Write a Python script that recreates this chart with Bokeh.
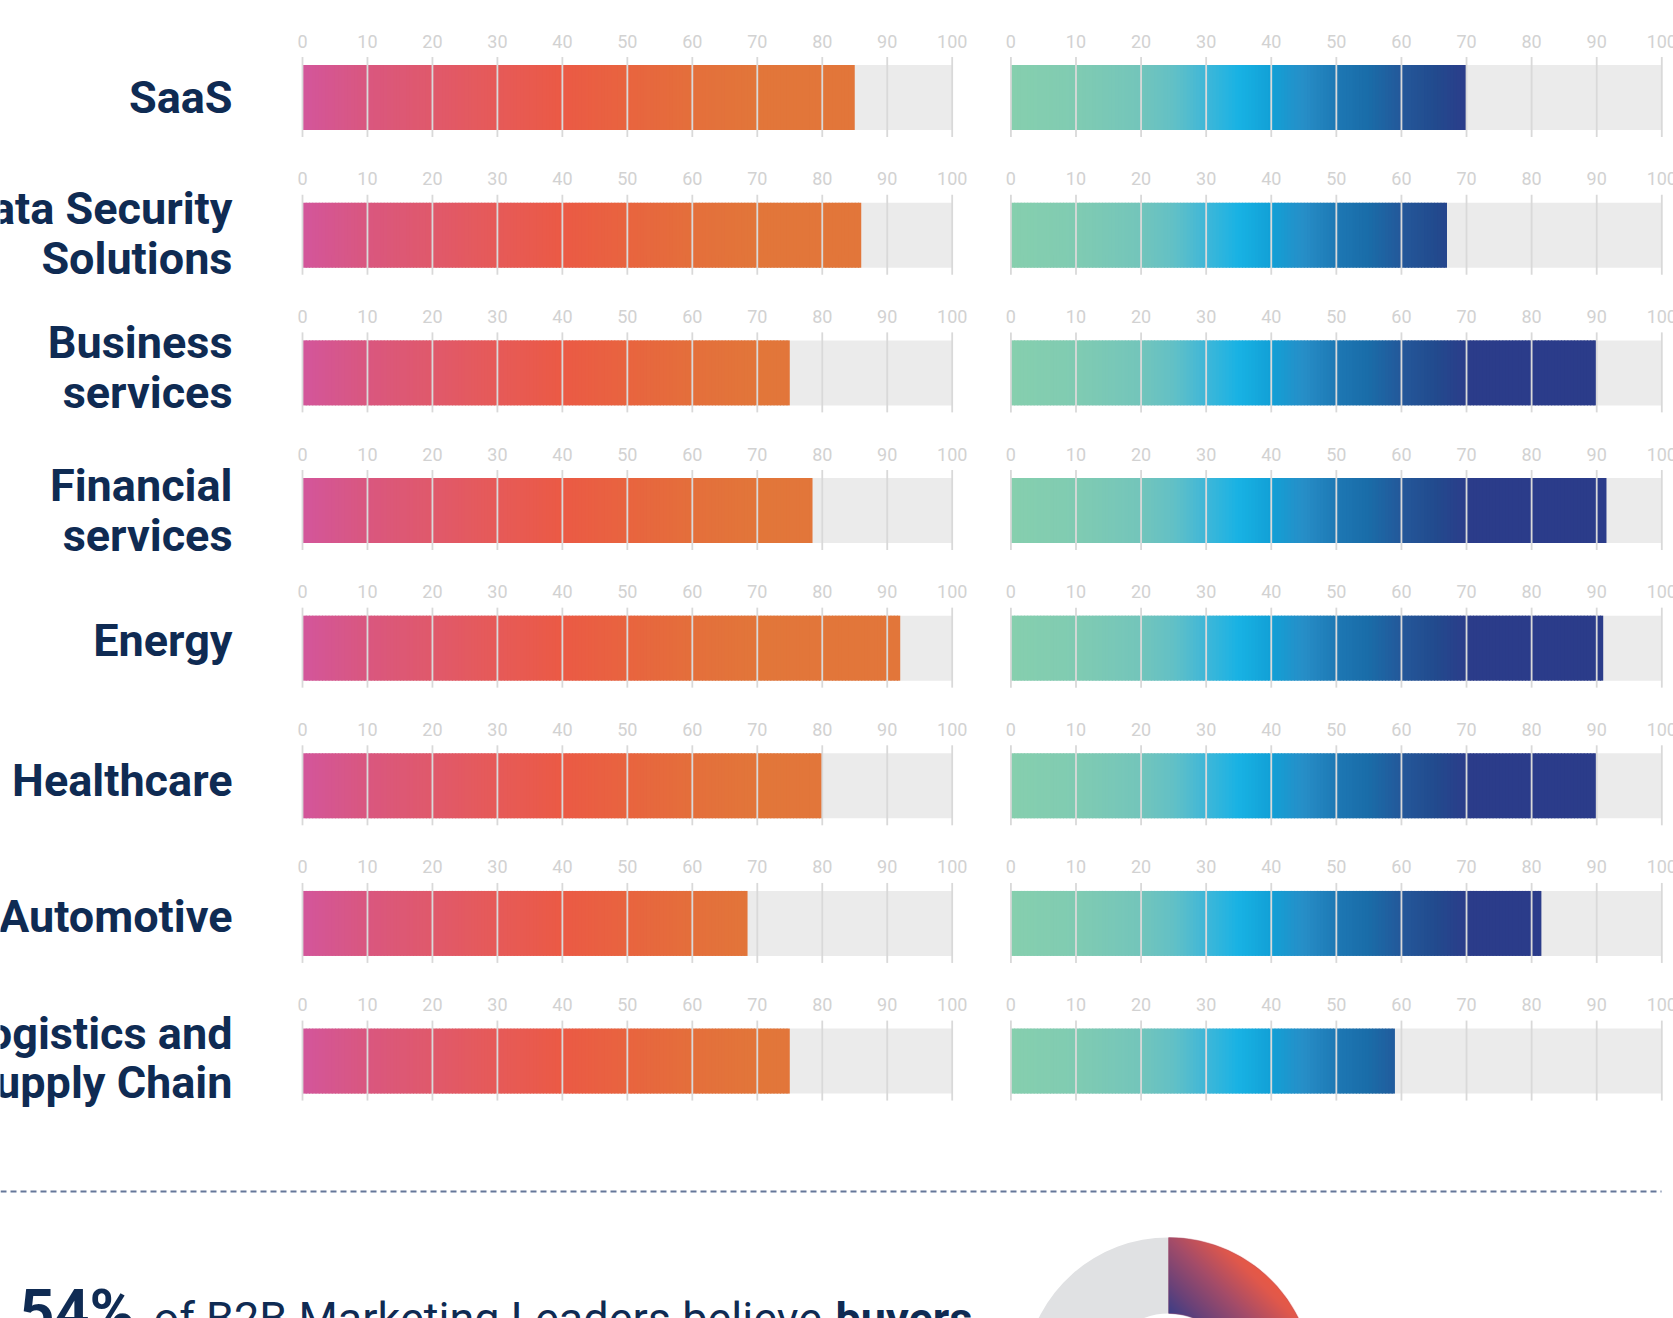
import numpy as np
from bokeh.plotting import figure
from bokeh.models import Range1d
from bokeh.core.properties import value
from bokeh.embed import file_html
from bokeh.resources import INLINE

# ---------------- data ----------------
categories = ["SaaS", "Data Security\nSolutions", "Business\nservices", "Financial\nservices",
              "Energy", "Healthcare", "Automotive", "Logistics and\nSupply Chain"]
left_values = [85, 86, 75, 78.5, 92, 80, 68.5, 75]
right_values = [70, 67, 90, 91.5, 91, 90, 81.5, 59]
tick_values = [0, 10, 20, 30, 40, 50, 60, 70, 80, 90, 100]
tick_labels = [str(t) for t in tick_values]
donut_share = 54
headline_value = "54%"
headline_text = "of B2B Marketing Leaders believe"
headline_bold = "buyers"

# ---------------- styles / layout ----------------
NAVY = "#0f2b53"
TICK_TXT = "#d2d2d2"
GRID = "#d9d9d9"
TRACK = "#ebebeb"
LEFT_STOPS = [(0, "#d3569b"), (10, "#d9577f"), (20, "#e0596b"), (30, "#e65a58"),
              (40, "#eb5a45"), (50, "#e8643f"), (60, "#e46f3b"), (70, "#e2763a"), (100, "#e2763a")]
RIGHT_STOPS = [(0, "#86cfae"), (10, "#80cbb2"), (20, "#73c5bb"), (25, "#62c0c6"), (30, "#3fb7d8"),
               (35, "#18b2e4"), (40, "#12a0d6"), (45, "#278ec7"), (50, "#1d78b4"), (55, "#1a6ca8"),
               (60, "#24589a"), (65, "#224b8e"), (70, "#2b3c8a"), (100, "#2b3c8a")]
DONUT_STOPS = [(60, "#2f3c8a"), (100, "#6a4279"), (145, "#a44c69"), (190, "#e0584c"), (215, "#ef5a40")]

PX0, PX1, PY0, PY1 = 0, 1673, 0, 1318
W, H = PX1 - PX0, PY1 - PY0
L0, LPU = 302.0, 6.497      # left panel: pixel of 0, px per unit
R0, RPU = 1010.4, 6.509     # right panel
ROW0, ROWH = 97.1, 137.64   # first row centre, row pitch (px)
BAR_H = 65 / ROWH
EXT_TOP, EXT_BOT = 8 / ROWH, 7 / ROWH
LABEL_X = 232
LABEL_DY = [0, -1.5, -5, 0, -8, -5, -7, -3]   # per-label vertical nudge (px, up = negative)


def hex2rgb(h):
    h = h.lstrip("#")
    return tuple(int(h[i:i + 2], 16) for i in (0, 2, 4))


def grad(stops, t):
    t = min(max(t, stops[0][0]), stops[-1][0])
    for (p0, c0), (p1, c1) in zip(stops[:-1], stops[1:]):
        if p0 <= t <= p1:
            f = 0 if p1 == p0 else (t - p0) / (p1 - p0)
            a, b = hex2rgb(c0), hex2rgb(c1)
            return "#%02x%02x%02x" % tuple(int(round(a[k] + (b[k] - a[k]) * f)) for k in range(3))
    return stops[-1][1]


def Y(py):
    return PY1 - py


p = figure(width=W, height=H, x_range=Range1d(PX0, PX1), y_range=Range1d(0, H),
           output_backend="svg", toolbar_location=None, min_border=0,
           x_axis_location=None, y_axis_location=None, outline_line_color=None,
           background_fill_color="white", border_fill_color="white")
p.grid.visible = False
p.extra_x_ranges = {
    "L": Range1d((PX0 - L0) / LPU, (PX1 - L0) / LPU),
    "R": Range1d((PX0 - R0) / RPU, (PX1 - R0) / RPU),
}
p.extra_y_ranges = {"rows": Range1d((PY1 - ROW0) / ROWH, (PY0 - ROW0) / ROWH)}

rows = list(range(len(categories)))

for rng, vals, stops in (("L", left_values, LEFT_STOPS), ("R", right_values, RIGHT_STOPS)):
    # grey track 0..100
    p.hbar(y=rows, left=0, right=100, height=BAR_H, fill_color=TRACK, line_color=None,
           x_range_name=rng, y_range_name="rows")
    # gradient bar slices
    step = 0.5
    ys, ls, rs, cs = [], [], [], []
    for i, v in enumerate(vals):
        a = 0.0
        while a < v - 1e-9:
            b = min(a + step, v)
            ys.append(i)
            ls.append(a)
            rs.append(min(b + 0.15, v))
            cs.append(grad(stops, (a + b) / 2))
            a = b
    p.hbar(y=ys, left=ls, right=rs, height=BAR_H, fill_color=cs, line_color=None,
           x_range_name=rng, y_range_name="rows")
    # grid / tick lines
    gx, gy0, gy1 = [], [], []
    for i in rows:
        for t in tick_values:
            gx.append(t)
            gy0.append(i - BAR_H / 2 - EXT_TOP)
            gy1.append(i + BAR_H / 2 + EXT_BOT)
    p.segment(x0=gx, x1=gx, y0=gy0, y1=gy1, line_color=GRID, line_width=1.8,
              x_range_name=rng, y_range_name="rows")
    # tick labels
    tx, ty, tt = [], [], []
    for i in rows:
        for t, lab in zip(tick_values, tick_labels):
            tx.append(t)
            ty.append(i - BAR_H / 2 - 24 / ROWH)
            tt.append(lab)
    p.text(x=tx, y=ty, text=tt, text_align="center", text_baseline="middle",
           text_font=value("Roboto"), text_font_size="18px", text_color=TICK_TXT,
           x_range_name=rng, y_range_name="rows")

# category labels
p.text(x=[LABEL_X] * len(categories), y=[i + d / ROWH for i, d in zip(rows, LABEL_DY)],
       text=categories, text_align="right",
       text_baseline="middle", text_font=value("Roboto"), text_font_style="bold",
       text_font_size="45px", text_color=NAVY, text_line_height=0.94, y_range_name="rows")

# dashed separator
p.segment(x0=[0], x1=[1661], y0=[Y(1191)], y1=[Y(1191)], line_color="#65779a",
          line_width=2, line_dash="6 4")

# donut
cx, cy, R_out, R_in = 1168, Y(1382), 145, 69
end_ang = 90 - donut_share / 100 * 360
p.annular_wedge(x=[cx], y=[cy], inner_radius=R_in, outer_radius=R_out,
                start_angle=[np.radians(90)], end_angle=[np.radians(end_ang + 360)],
                fill_color="#e0e1e3", line_color=None)
p.annular_wedge(x=[cx], y=[cy], inner_radius=R_in, outer_radius=R_out,
                start_angle=[np.radians(end_ang)], end_angle=[np.radians(90)],
                fill_color="#a44c69", line_color=None)

# smooth diagonal gradient fill for the share segment (masked to the same sector)
n = 2 * R_out
xs = np.arange(n) + 0.5 - R_out
ysg = np.arange(n) + 0.5 - R_out
DX, DY = np.meshgrid(xs, ysg)
RR = np.hypot(DX, DY)
ANG = np.degrees(np.arctan2(DY, DX))
in_ang = (ANG <= 90) & (ANG >= end_ang)
a_rad = np.clip(np.minimum(RR - R_in + 0.5, R_out - RR + 0.5), 0, 1)
a_edge = np.where(DY > 0, np.clip(DX + 0.5, 0, 1), 1.0)
alpha = np.where(in_ang | (DY > 0) & (DX > -1), a_rad * a_edge, 0)
U = DX + DY
st_pos = np.array([s[0] for s in DONUT_STOPS], float)
st_rgb = np.array([hex2rgb(s[1]) for s in DONUT_STOPS], float)
img = np.zeros((n, n), dtype=np.uint32)
view = img.view(dtype=np.uint8).reshape((n, n, 4))
for k in range(3):
    view[:, :, k] = np.interp(U, st_pos, st_rgb[:, k]).astype(np.uint8)
view[:, :, 3] = (alpha * 255).astype(np.uint8)
p.image_rgba(image=[img], x=cx - R_out, y=cy - R_out, dw=n, dh=n)

# headline text (cut by the bottom edge as in the source); anchors kept inside the frame
p.text(x=[19], y=[Y(1311)], text=[headline_value], text_align="left", text_baseline="middle",
       text_font=value("Roboto"), text_font_style="bold", text_font_size="61px", text_color=NAVY)
p.text(x=[153], y=[Y(1317.5)], text=[headline_text], text_align="left", text_baseline="middle",
       text_font=value("Roboto"), text_font_size="45px", text_color=NAVY)
p.text(x=[835], y=[Y(1317.5)], text=[headline_bold], text_align="left", text_baseline="middle",
       text_font=value("Roboto"), text_font_style="bold", text_font_size="45px", text_color=NAVY)

open("out.html", "w").write(file_html(p, INLINE))
